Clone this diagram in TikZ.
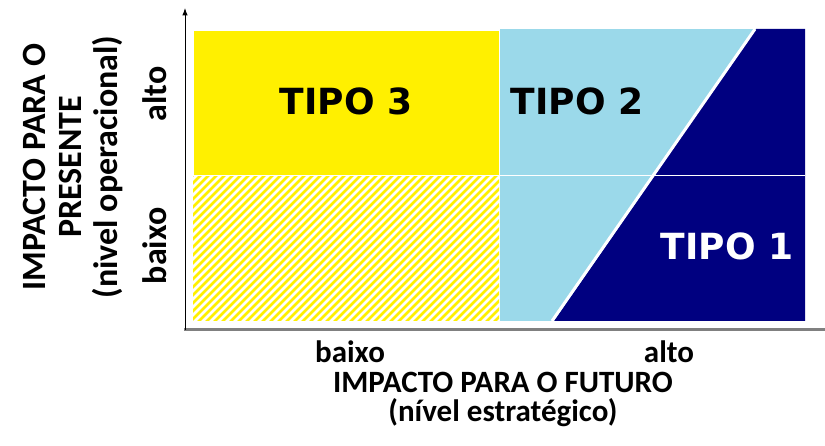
\documentclass[tikz,border=0pt]{standalone}
\usepackage{fontspec}
\setmainfont{Carlito}
\newfontfamily\tipofont{DejaVu Sans}
\usepackage{tikz}
\usetikzlibrary{arrows.meta}

\definecolor{amarelo}{RGB}{255,240,0}
\definecolor{azulclaro}{RGB}{155,217,234}
\definecolor{marinho}{RGB}{0,0,128}
\definecolor{cinza}{RGB}{128,128,128}

\tikzset{
  tipo/.style={font=\tipofont\bfseries\fontsize{36}{40}\selectfont},
  rotulo/.style={font=\bfseries\fontsize{31}{29}\selectfont,inner sep=0pt},
  rotuloy/.style={font=\bfseries\fontsize{34}{36}\selectfont,inner sep=1pt,rotate=90},
  hachura/.style={amarelo,line width=2.8pt}
}

\begin{document}
\begin{tikzpicture}[>=Latex,x=1pt,y=-1pt]
    \useasboundingbox (0,0) rectangle (825,446);

    % quadrantes
    \fill[amarelo] (194,31) rectangle (499,175);
    \begin{scope}
      \clip (193,177) rectangle (499,321);
      \foreach \i in {43,51,...,499}
        \draw[hachura] (\i,325) -- ++(155,-155);
    \end{scope}
    \fill[azulclaro] (500,29) rectangle (805,321);
    \fill[marinho] (756,29) -- (805,29) -- (805,321) -- (554,321) -- cycle;
    \draw[white,line width=3pt] (755,29) -- (552,321);
    \draw[white,line width=1.5pt] (500,175.5) -- (805,175.5);

    % eixos
    \draw[cinza,line width=2.5pt] (184,329.5) -- (825,329.5);
    \draw[->,line width=1pt] (185,330) -- (185,8);

    \node[tipo] (t3) at (346,101) {TIPO 3};
    \node[tipo] (t2) at (577,101) {TIPO 2};
    \node[tipo,white] (t1) at (727,246) {TIPO 1};

    \node[rotuloy,align=center] (ey) at (73,167)
      {IMPACTO PARA O\\PRESENTE\\(nivel operacional)};
    \node[rotuloy] (yalto) at (155,94) {alto};
    \node[rotuloy] (ybaixo) at (155,246) {baixo};

    \node[rotulo] (xbaixo) at (350,352) {baixo};
    \node[rotulo] (xalto) at (669,352) {alto};
    \node[rotulo,align=center] (ex) at (503,399)
      {IMPACTO PARA O FUTURO\\(nível estratégico)};
  \end{tikzpicture}
\end{document}
